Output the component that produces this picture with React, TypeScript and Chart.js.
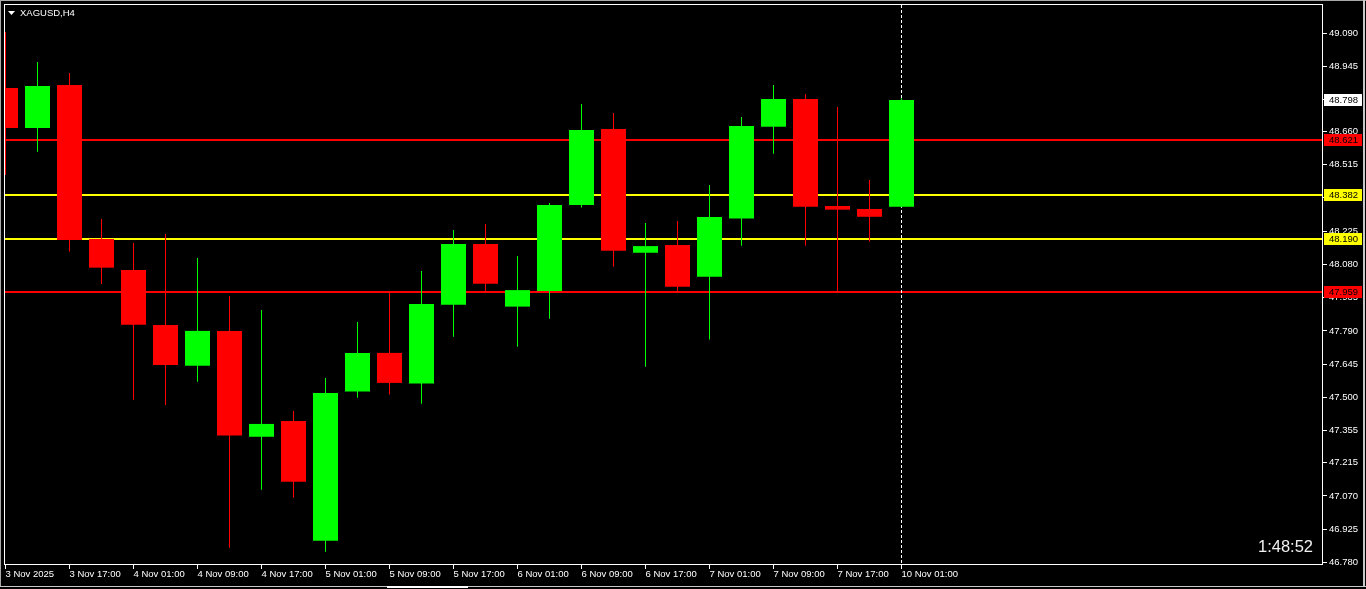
import React, { useEffect, useRef } from "react";
import { Chart, registerables } from "chart.js";

Chart.register(...registerables);

// ---- DATA ----
const symbolTitle = "XAGUSD,H4";
const timerText = "1:48:52";

const candleTimes = [
  "3 Nov 09:00", "3 Nov 13:00", "3 Nov 17:00", "3 Nov 21:00", "4 Nov 01:00", "4 Nov 05:00",
  "4 Nov 09:00", "4 Nov 13:00", "4 Nov 17:00", "4 Nov 21:00", "5 Nov 01:00", "5 Nov 05:00",
  "5 Nov 09:00", "5 Nov 13:00", "5 Nov 17:00", "5 Nov 21:00", "6 Nov 01:00", "6 Nov 05:00",
  "6 Nov 09:00", "6 Nov 13:00", "6 Nov 17:00", "6 Nov 21:00", "7 Nov 01:00", "7 Nov 05:00",
  "7 Nov 09:00", "7 Nov 13:00", "7 Nov 17:00", "7 Nov 21:00", "10 Nov 01:00",
];

const opens = [48.850, 48.675, 48.863, 48.191, 48.056, 47.816, 47.638, 47.790, 47.328, 47.397,
  46.874, 47.525, 47.694, 47.560, 47.904, 48.169, 47.896, 47.964, 48.339, 48.671,
  48.131, 48.165, 48.026, 48.280, 48.681, 48.802, 48.335, 48.322, 48.332];
const highs = [49.094, 48.963, 48.915, 48.278, 48.174, 48.213, 48.108, 47.942, 47.881, 47.440,
  47.584, 47.829, 47.960, 48.051, 48.230, 48.256, 48.117, 48.348, 48.780, 48.741,
  48.261, 48.270, 48.427, 48.723, 48.863, 48.824, 48.767, 48.448, 48.805];
const lows = [48.470, 48.572, 48.136, 47.995, 47.490, 47.467, 47.568, 46.844, 47.097, 47.062,
  46.826, 47.498, 47.512, 47.472, 47.765, 47.964, 47.721, 47.843, 48.328, 48.070,
  47.634, 47.955, 47.752, 48.162, 48.563, 48.162, 47.963, 48.179, 48.330];
const closes = [48.675, 48.859, 48.187, 48.066, 47.817, 47.641, 47.790, 47.333, 47.384, 47.132,
  47.519, 47.694, 47.563, 47.907, 48.169, 47.996, 47.968, 48.339, 48.667, 48.140,
  48.160, 47.983, 48.287, 48.684, 48.802, 48.332, 48.319, 48.288, 48.798];

const xTickIndex = [0, 2, 4, 6, 8, 10, 12, 14, 16, 18, 20, 22, 24, 26, 28];
const xTickLabels = [
  "3 Nov 2025", "3 Nov 17:00", "4 Nov 01:00", "4 Nov 09:00", "4 Nov 17:00", "5 Nov 01:00",
  "5 Nov 09:00", "5 Nov 17:00", "6 Nov 01:00", "6 Nov 09:00", "6 Nov 17:00", "7 Nov 01:00",
  "7 Nov 09:00", "7 Nov 17:00", "10 Nov 01:00",
];

const yTicks = [49.090, 48.945, 48.800, 48.660, 48.515, 48.370, 48.225, 48.080, 47.935,
  47.790, 47.645, 47.500, 47.355, 47.215, 47.070, 46.925, 46.780];

const levelValues = [48.621, 48.382, 48.190, 47.959];
const levelColors = ["#ff0000", "#ffff00", "#ffff00", "#ff0000"];

const currentPrice = 48.798;
const currentIndex = 28;

const GREEN = "#00ff00";
const RED = "#ff0000";
const FONT_FAMILY = "'Liberation Sans', Arial, sans-serif";

export default function App() {
  const canvasRef = useRef<HTMLCanvasElement | null>(null);

  useEffect(() => {
    document.body.style.margin = "0";
    document.body.style.background = "#000";
    const canvas = canvasRef.current;
    if (!canvas) return;

    const colors = opens.map((o, i) => (closes[i] >= o ? GREEN : RED));
    const bodyData = opens.map((o, i) => ({ x: i, y: [o, closes[i]] }));
    const wickData = lows.map((l, i) => ({ x: i, y: [l, highs[i]] }));

    const backgroundPlugin = {
      id: "mtBackground",
      beforeDraw(chart: any) {
        const ctx = chart.ctx;
        ctx.save();
        ctx.fillStyle = "#000";
        ctx.fillRect(0, 0, chart.width, chart.height);
        ctx.restore();
      },
      beforeDatasetsDraw(chart: any) {
        const ctx = chart.ctx;
        const { left, right, top, bottom } = chart.chartArea;
        const ys = chart.scales.y;
        const xs = chart.scales.x;
        ctx.save();
        levelValues.forEach((v, i) => {
          const py = Math.round(ys.getPixelForValue(v));
          ctx.fillStyle = levelColors[i];
          ctx.fillRect(left, py - 1, right - left, 2);
        });
        const px = Math.floor(xs.getPixelForValue(currentIndex)) + 0.5;
        ctx.strokeStyle = "#ffffff";
        ctx.lineWidth = 1;
        ctx.setLineDash([3, 2]);
        ctx.beginPath();
        ctx.moveTo(px, top);
        ctx.lineTo(px, bottom);
        ctx.stroke();
        ctx.restore();
      },
      afterDraw(chart: any) {
        const ctx = chart.ctx;
        const { left, right, top, bottom } = chart.chartArea;
        const ys = chart.scales.y;
        ctx.save();
        ctx.strokeStyle = "#ffffff";
        ctx.lineWidth = 1;
        ctx.setLineDash([]);
        ctx.strokeRect(left - 0.5, top - 0.5, right - left, bottom - top);

        ctx.font = `9.5px ${FONT_FAMILY}`;
        ctx.textBaseline = "middle";
        ctx.textAlign = "left";
        const boxes = [
          { v: currentPrice, bg: "#ffffff", fg: "#000000" },
          ...levelValues.map((v, i) => ({ v, bg: levelColors[i], fg: "#000000" })),
        ];
        boxes.forEach((b) => {
          const py = Math.round(ys.getPixelForValue(b.v));
          ctx.fillStyle = b.bg;
          ctx.fillRect(right + 1, py - 6, 38, 12);
          ctx.fillStyle = b.fg;
          ctx.fillText(b.v.toFixed(3), right + 6, py + 0.5);
        });

        ctx.fillStyle = "#ffffff";
        ctx.beginPath();
        ctx.moveTo(8, 11);
        ctx.lineTo(15, 11);
        ctx.lineTo(11.5, 15);
        ctx.closePath();
        ctx.fill();
        ctx.font = `9.5px ${FONT_FAMILY}`;
        ctx.textBaseline = "middle";
        ctx.fillText(symbolTitle, 20, 13);

        ctx.font = `16.5px ${FONT_FAMILY}`;
        ctx.textAlign = "right";
        ctx.fillStyle = "#f0f0f0";
        ctx.fillText(timerText, right - 10, 547);

        ctx.fillStyle = "#a8a8a8";
        ctx.fillRect(0, 0, chart.width, 1);
        ctx.fillRect(0, 0, 1, chart.height - 3);
        ctx.fillStyle = "#c8c8c8";
        ctx.fillRect(chart.width - 3, 0, 2, chart.height - 3);
        ctx.fillRect(0, chart.height - 3, chart.width, 1);
        ctx.fillStyle = "#ffffff";
        ctx.fillRect(387, chart.height - 3, 81, 2);
        ctx.restore();
      },
    };

    const chart = new Chart(canvas, {
      type: "bar",
      data: {
        datasets: [
          {
            label: "wicks",
            data: wickData as any,
            backgroundColor: colors,
            barThickness: 1,
            grouped: false,
            borderWidth: 0,
            inflateAmount: 0,
            order: 2,
          } as any,
          {
            label: "bodies",
            data: bodyData as any,
            backgroundColor: colors,
            barThickness: 25,
            grouped: false,
            borderWidth: 0,
            inflateAmount: 0,
            order: 1,
          } as any,
        ],
      },
      options: {
        animation: false,
        responsive: false,
        maintainAspectRatio: false,
        events: [],
        layout: { padding: { left: 5, top: 5, right: 0, bottom: 0 } },
        plugins: {
          legend: { display: false },
          tooltip: { enabled: false },
          title: { display: false },
        },
        scales: {
          x: {
            type: "linear",
            position: "bottom",
            offset: false,
            min: -0.5 / 32,
            max: -0.5 / 32 + 1318 / 32,
            afterBuildTicks: (s: any) => {
              s.ticks = xTickIndex.map((v) => ({ value: v }));
            },
            afterFit: (s: any) => {
              s.height = 24;
              s.paddingLeft = 0;
              s.paddingRight = 0;
            },
            ticks: {
              autoSkip: false,
              maxRotation: 0,
              minRotation: 0,
              align: "start",
              color: "#ffffff",
              padding: 0,
              font: { family: FONT_FAMILY, size: 9.5 },
              callback: (_v: any, i: number) => xTickLabels[i],
            },
            grid: {
              display: true,
              offset: false,
              drawOnChartArea: false,
              drawTicks: true,
              tickLength: 4,
              color: "#ffffff",
            },
            border: { display: false },
          },
          y: {
            type: "linear",
            position: "right",
            min: 46.7684,
            max: 49.2122,
            afterBuildTicks: (s: any) => {
              s.ticks = yTicks.map((v) => ({ value: v }));
            },
            afterFit: (s: any) => {
              s.width = 43;
              s.paddingTop = 0;
              s.paddingBottom = 0;
            },
            ticks: {
              color: "#ffffff",
              padding: 2,
              font: { family: FONT_FAMILY, size: 9.5 },
              callback: (v: any) => Number(v).toFixed(3),
            },
            grid: {
              display: true,
              drawOnChartArea: false,
              drawTicks: true,
              tickLength: 4,
              color: "#ffffff",
            },
            border: { display: false },
          },
        },
      } as any,
      plugins: [backgroundPlugin],
    });

    return () => chart.destroy();
  }, []);

  return (
    <div style={{ width: 1366, height: 589, background: "#000" }}>
      <canvas ref={canvasRef} width={1366} height={589} style={{ display: "block" }} />
    </div>
  );
}
